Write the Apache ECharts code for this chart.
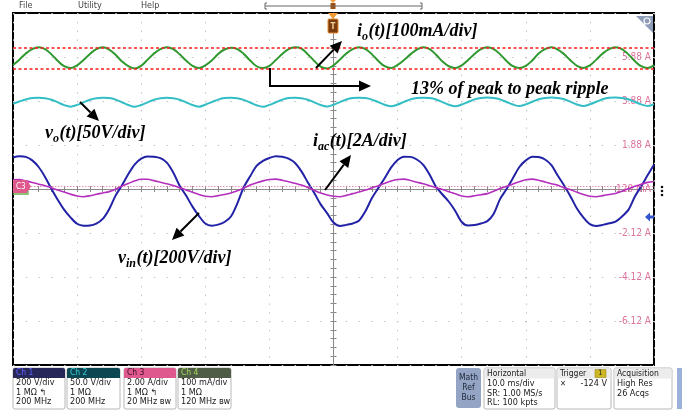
<!DOCTYPE html>
<html><head><meta charset="utf-8">
<script src="https://cdn.jsdelivr.net/npm/echarts@6/dist/echarts.min.js"></script>
<style>html,body{margin:0;padding:0;background:#fff}#c{width:682px;height:415px}</style>
</head><body><div id="c"></div>
<script>
// ---- sample clock: 1 ms per sample, trigger (t = 0) at screen centre ----
const timeMs = Array.from({length: 101}, (_, i) => i - 50);

// Ch1 v_in(t) [V], 200 V/div
const vin = [143,149,146,130,100,55,0,-50,-95,-130,
-158,-167,-166,-157,-136,-92,-30,17,68,112,
138,148,147,140,120,75,15,-30,-80,-122,
-157,-167,-162,-150,-125,-65,8,58,105,128,
141,149,147,138,118,80,30,-18,-70,-110,
-152,-168,-163,-157,-143,-100,-41,5,50,98,
132,147,146,134,110,65,10,-25,-58,-100,
-150,-166,-164,-157,-146,-112,-45,0,50,100,
130,147,145,134,108,60,15,-35,-90,-130,
-160,-168,-163,-156,-148,-125,-95,-35,12,62,
110];

// Ch2 v_o(t) [V], 50 V/div
const vo = [97,99.5,101.8,103.3,103.7,103.2,101.5,98.5,95.3,93.6,
95.6,98.6,101.5,103.2,103.7,103.3,101.6,98.6,95.4,93.5,
95.5,98.5,101.4,103.2,103.7,103.2,101.5,98.5,95.4,93.6,
95.8,98.8,101.6,103.3,103.7,103.2,101.3,98.3,95.2,93.5,
95.6,98.6,101.5,103.3,103.6,103.1,101.4,98.5,95.5,93.7,
95.8,98.8,101.7,103.4,103.8,103.3,101.6,98.7,95.7,94.0,
96.0,99.0,101.8,103.4,103.8,103.3,101.7,98.8,95.8,94.0,
96.0,98.9,101.8,103.5,103.9,103.4,101.8,98.9,96.0,94.2,
96.2,99.1,101.9,103.5,103.9,103.5,101.9,99.0,96.1,94.3,
96.3,99.2,102.0,103.6,104.0,103.5,102.0,99.1,96.2,94.4,
96.4];

// Ch3 i_ac(t) [A], 2 A/div
const iac = [0.30,0.31,0.25,0.18,0.10,0.03,-0.06,-0.17,-0.26,-0.36,
-0.44,-0.47,-0.43,-0.36,-0.30,-0.24,-0.13,0.01,0.13,0.25,
0.32,0.32,0.26,0.19,0.12,0.04,-0.06,-0.16,-0.27,-0.37,
-0.45,-0.47,-0.42,-0.37,-0.30,-0.20,-0.08,0.06,0.16,0.25,
0.31,0.33,0.28,0.21,0.14,0.06,-0.05,-0.18,-0.30,-0.39,
-0.45,-0.47,-0.41,-0.33,-0.26,-0.17,-0.06,0.03,0.14,0.24,
0.31,0.33,0.27,0.19,0.12,0.03,-0.06,-0.14,-0.24,-0.34,
-0.44,-0.47,-0.43,-0.38,-0.33,-0.22,-0.10,0.00,0.11,0.21,
0.30,0.33,0.28,0.20,0.12,0.05,-0.07,-0.15,-0.27,-0.37,
-0.45,-0.47,-0.42,-0.37,-0.32,-0.22,-0.11,0.00,0.10,0.18,
0.22];

// Ch4 i_o(t) [mA], 100 mA/div
const io = [282,294,308,318,322,318,306,291,279,275,
281,293,307,318,322,317,305,290,279,274,
280,294,308,318,322,318,306,292,280,275,
281,292,307,317,321,318,307,292,279,275,
280,293,307,318,322,319,306,291,278,274,
281,294,308,318,322,318,306,291,279,275,
282,293,306,317,322,318,305,290,279,275,
281,293,307,318,322,318,306,291,279,275,
280,292,308,318,322,317,306,292,280,275,
281,294,308,318,322,318,306,291,279,275,
282];

// ripple band of i_o (mA) marked by the red dashed lines
const ioRippleBand = [322, 274];

// channel vertical scales (units per division, 8 divisions on screen)
const chScale = {ch1: 200, ch2: 50, ch3: 2, ch4: 100};
// Ch3 readout on the right edge: first tick and step (A)
const ch3TickMin = -8.12, ch3TickStep = 2;

// bottom readout badges
const badgeTitles = ['Ch 1', 'Ch 2', 'Ch 3', 'Ch 4'];
const badgeLines = [
  ['200 V/div', '1 MΩ ↰', '200 MHz'],
  ['50.0 V/div', '1 MΩ', '200 MHz'],
  ['2.00 A/div', '1 MΩ ↰', '20 MHz ʙᴡ'],
  ['100 mA/div', '1 MΩ', '120 MHz ʙᴡ']
];
const horizLines = ['10.0 ms/div', 'SR: 1.00 MS/s', 'RL: 100 kpts'];
const trigLine = '-124 V';
const acqLines = ['High Res', '26 Acqs'];

// ------------------------------------------------------------------
const pair = arr => timeMs.map((t, i) => [t, arr[i]]);
const UI = '"Liberation Sans Narrow","DejaVu Sans Condensed","Liberation Sans",sans-serif';
const G = [];
function T(x, y, text, o) {
  G.push({type: 'text', x, y, silent: true, z: 100,
    style: Object.assign({text, fill: '#222', font: '9px ' + UI, align: 'left', verticalAlign: 'middle'}, o || {})});
}
function R(x, y, w, h, o) {
  G.push({type: 'rect', silent: true, z: 90, shape: {x, y, width: w, height: h, r: (o && o.r) || 0},
    style: Object.assign({fill: '#fff'}, o || {})});
}
function PL(points, o) {
  G.push({type: 'polyline', silent: true, z: 95, shape: {points}, style: Object.assign({stroke: '#000', lineWidth: 1, fill: null}, o || {})});
}
function PG(points, o) {
  G.push({type: 'polygon', silent: true, z: 95, shape: {points}, style: Object.assign({fill: '#000'}, o || {})});
}
function arrow(pts) {
  const [x2, y2] = pts[pts.length - 1], [x1, y1] = pts[pts.length - 2];
  const a = Math.atan2(y2 - y1, x2 - x1), L = 12, H = 5.5;
  const bx = x2 - L * Math.cos(a), by = y2 - L * Math.sin(a);
  PL(pts.slice(0, -1).concat([[bx, by]]), {lineWidth: 2});
  PG([[x2, y2], [bx + H * Math.sin(a), by - H * Math.cos(a)], [bx - H * Math.sin(a), by + H * Math.cos(a)]]);
}
const mctx = document.createElement('canvas').getContext('2d');
function annot(x, base, parts) {
  let cx = x;
  parts.forEach(([s, sub]) => {
    const fs = sub ? 12 : 18;
    const font = `italic bold ${fs}px "Liberation Serif"`;
    mctx.font = font;
    const w = mctx.measureText(s).width;
    const bl = sub ? base + 4 : base;
    G.push({type: 'text', x: cx, y: bl - 0.305 * fs, silent: true, z: 100,
      style: {text: s, font, fill: '#000', align: 'left', verticalAlign: 'middle'}});
    cx += w + (sub ? 0.5 : 0);
  });
}

// menu bar + timeline
T(19, 6, 'File', {fill: '#444'});
T(78, 6, 'Utility', {fill: '#444'});
T(141, 6, 'Help', {fill: '#444'});
PL([[265, 6], [422, 6]], {stroke: '#666'});
PL([[267, 3], [265, 3], [265, 9], [267, 9]], {stroke: '#666'});
PL([[420, 3], [422, 3], [422, 9], [420, 9]], {stroke: '#666'});
PG([[330, 0], [336, 0], [333, 3]], {fill: '#f0a040'});
R(330.5, 3, 5, 6, {fill: '#a05010'});
// trigger marker
PG([[328, 13], [338, 13], [333, 19]], {fill: '#f09a35'});
R(328, 19, 10, 14, {fill: '#7a3c0c', stroke: '#e08a30', lineWidth: 1, r: 1});
T(333, 26.5, 'T', {align: 'center', fill: '#f3d2a0', font: 'bold 8px ' + UI});
// magnifier tab
PG([[636, 16], [653, 16], [653, 33]], {fill: '#8d9cb8'});
G.push({type: 'circle', silent: true, z: 96, shape: {cx: 647, cy: 21, r: 3}, style: {stroke: '#fff', fill: null, lineWidth: 1.2}});
PL([[645, 23.5], [642, 27]], {stroke: '#fff', lineWidth: 1.4});
// C3 offset badge + ch4 marker
PG([[13, 180], [27, 180], [31, 186.5], [27, 193], [13, 193]], {fill: '#de5a8c'});
T(16, 186.5, 'C3', {fill: '#fff', font: '8px ' + UI});
PL([[13, 194], [28, 194], [28, 191]], {stroke: '#6ab04a', lineWidth: 1.3});
// right side markers
[187, 191, 195].forEach(y => G.push({type: 'circle', silent: true, z: 96, shape: {cx: 662, cy: y, r: 1.3}, style: {fill: '#111'}}));
PG([[645, 217], [650, 212.5], [650, 215.5], [654, 215.5], [654, 218.5], [650, 218.5], [650, 221.5]], {fill: '#3355d0'});

// annotations
annot(357, 37, [['i'], ['o', 1], ['(t)[100mA/div]']]);
arrow([[316, 68], [342, 41]]);
annot(411, 95, [['13% of peak to peak ripple']]);
arrow([[270, 68], [270, 86], [371, 86]]);
annot(45, 139, [['v'], ['o', 1], ['(t)[50V/div]']]);
arrow([[80, 102], [99, 121]]);
annot(313, 147, [['i'], ['ac', 1], ['(t)[2A/div]']]);
arrow([[325, 190], [351, 155]]);
annot(118, 264, [['v'], ['in', 1], ['(t)[200V/div]']]);
arrow([[199, 213], [172, 240]]);

// bottom readouts
const badgeX = [13, 67, 124, 178], badgeW = [52, 53, 52, 53];
const hdrFill = ['#27275a', '#0c4650', '#e0598e', '#4f5d47'];
const hdrText = ['#6060ff', '#3ccfdc', '#3a0c22', '#a6d85a'];
badgeTitles.forEach((t, i) => {
  const x = badgeX[i];
  R(x, 368, badgeW[i], 41, {fill: '#fff', stroke: '#b8b8b8', lineWidth: 1, r: 2});
  R(x, 368, badgeW[i], 10, {fill: hdrFill[i], r: [2, 2, 0, 0]});
  T(x + 3, 373, t, {fill: hdrText[i], font: '8.5px ' + UI});
  badgeLines[i].forEach((s, k) => T(x + 3, 383 + k * 9.5, s, {fill: '#1a1a1a', font: '9px ' + UI}));
});
R(456, 368, 25, 40, {fill: '#94a4c4', r: 3});
['Math', 'Ref', 'Bus'].forEach((s, k) => T(468.5, 378 + k * 10, s, {align: 'center', fill: '#1e2638', font: '8.5px ' + UI}));
R(484, 368, 71, 41, {fill: '#fff', stroke: '#b8b8b8', lineWidth: 1, r: 2});
R(484.5, 368.5, 70, 10, {fill: '#ececec'});
T(487, 373.5, 'Horizontal', {fill: '#222', font: '8.5px ' + UI});
horizLines.forEach((s, k) => T(487, 384 + k * 9.5, s, {fill: '#1a1a1a', font: '9px ' + UI}));
R(557, 368, 54, 41, {fill: '#fff', stroke: '#b8b8b8', lineWidth: 1, r: 2});
R(557.5, 368.5, 53, 10, {fill: '#ececec'});
T(560, 373.5, 'Trigger', {fill: '#222', font: '8.5px ' + UI});
R(595, 369.5, 11, 8, {fill: '#cdb824', stroke: '#8a7a10', lineWidth: 0.5});
T(600.5, 373.5, '1', {align: 'center', fill: '#222', font: '7.5px ' + UI});
T(560, 384, '✕', {fill: '#333', font: '8px ' + UI});
T(607, 384, trigLine, {align: 'right', fill: '#1a1a1a', font: '9px ' + UI});
R(614, 368, 58, 41, {fill: '#fff', stroke: '#b8b8b8', lineWidth: 1, r: 2});
R(614.5, 368.5, 57, 10, {fill: '#ececec'});
T(617, 373.5, 'Acquisition', {fill: '#222', font: '8.5px ' + UI});
acqLines.forEach((s, k) => T(617, 384 + k * 9.5, s, {fill: '#1a1a1a', font: '9px ' + UI}));
R(677, 368, 5, 41, {fill: '#9cb0dc'});

const tickCol = '#8a8a8a';
const ch3Max = ch3TickMin + 8 * chScale.ch3;
const chart = echarts.init(document.getElementById('c'), null, {renderer: 'canvas'});
chart.setOption({
  animation: false,
  backgroundColor: '#fff',
  grid: {left: 13, top: 13, width: 641, height: 352, show: true, borderColor: '#000', borderWidth: 2,
         backgroundColor: 'transparent', containLabel: false, outerBoundsMode: 'none'},
  xAxis: [
    {type: 'value', min: -50, max: 50, interval: 10, position: 'bottom',
     axisLine: {onZero: true, onZeroAxisIndex: 0, lineStyle: {color: tickCol, width: 1}},
     axisTick: {show: true, inside: true, length: 3, lineStyle: {color: tickCol}},
     minorTick: {show: true, splitNumber: 5, length: 3, lineStyle: {color: tickCol}},
     axisLabel: {show: false},
     splitLine: {show: true, lineStyle: {color: '#c2c2c2', width: 1, type: [1.5, 7.3]}}},
    {type: 'value', min: -50, max: 50, interval: 10, position: 'top',
     axisLine: {show: false, onZero: true, onZeroAxisIndex: 0},
     axisTick: {show: true, inside: true, length: 3, lineStyle: {color: tickCol}},
     minorTick: {show: true, splitNumber: 5, length: 3, lineStyle: {color: tickCol}},
     axisLabel: {show: false}, splitLine: {show: false}}
  ],
  yAxis: [
    {type: 'value', min: -4, max: 4, interval: 1, position: 'left',
     axisLine: {show: true, onZero: true, onZeroAxisIndex: 0, lineStyle: {color: tickCol, width: 1}},
     axisTick: {show: true, inside: true, length: 3, lineStyle: {color: tickCol}},
     minorTick: {show: true, splitNumber: 5, length: 3, lineStyle: {color: tickCol}},
     axisLabel: {show: false},
     splitLine: {show: true, lineStyle: {color: '#c2c2c2', width: 1, type: [1.5, 11.3]}}},
    {type: 'value', min: -4, max: 4, interval: 1, position: 'right',
     axisLine: {show: false, onZero: true, onZeroAxisIndex: 0},
     axisTick: {show: true, inside: true, length: 3, lineStyle: {color: tickCol}},
     minorTick: {show: true, splitNumber: 5, length: 3, lineStyle: {color: tickCol}},
     axisLabel: {show: false}, splitLine: {show: false}},
    {type: 'value', show: false, min: -4 * chScale.ch1, max: 4 * chScale.ch1, axisLine: {onZero: false}},
    {type: 'value', show: false, min: -4 * chScale.ch2, max: 4 * chScale.ch2, axisLine: {onZero: false}},
    {type: 'value', min: ch3TickMin, max: ch3Max, interval: ch3TickStep, position: 'right',
     axisLine: {show: false, onZero: false}, axisTick: {show: false}, splitLine: {show: false},
     axisLabel: {show: true, inside: true, margin: 3, showMinLabel: false, showMaxLabel: false,
       color: 'rgba(214,90,140,0.85)', fontSize: 10, fontFamily: UI,
       formatter: v => (v > ch3Max - 0.5 || v < ch3TickMin + 0.5) ? '' :
         (Math.abs(v) < 1 ? Math.round(v * 1000) + ' mA' : v.toFixed(2) + ' A')}},
    {type: 'value', show: false, min: -4 * chScale.ch4, max: 4 * chScale.ch4, axisLine: {onZero: false}}
  ],
  series: [
    {name: 'io', type: 'line', xAxisIndex: 0, yAxisIndex: 5, data: pair(io), showSymbol: false, smooth: 0.4,
     lineStyle: {color: '#2f982f', width: 2}, z: 3,
     markLine: {silent: true, symbol: ['none', 'none'], label: {show: false},
       lineStyle: {color: '#ff1c1c', width: 1.6, type: [3, 2.5]},
       data: ioRippleBand.map(v => ({yAxis: v}))}},
    {name: 'vo', type: 'line', xAxisIndex: 0, yAxisIndex: 3, data: pair(vo), showSymbol: false, smooth: 0.4,
     lineStyle: {color: '#33bec6', width: 2}, z: 3},
    {name: 'vin', type: 'line', xAxisIndex: 0, yAxisIndex: 2, data: pair(vin), showSymbol: false, smooth: 0.3,
     lineStyle: {color: '#2222a6', width: 2}, z: 4},
    {name: 'iac', type: 'line', xAxisIndex: 0, yAxisIndex: 4, data: pair(iac), showSymbol: false, smooth: 0.3,
     lineStyle: {color: '#b42ebe', width: 1.6}, z: 5,
     markLine: {silent: true, symbol: ['none', 'none'], label: {show: false},
       lineStyle: {color: 'rgba(230,120,170,0.8)', width: 1, type: [1.5, 1.5]},
       data: [{yAxis: 0}]}}
  ],
  graphic: G
});
</script></body></html>
